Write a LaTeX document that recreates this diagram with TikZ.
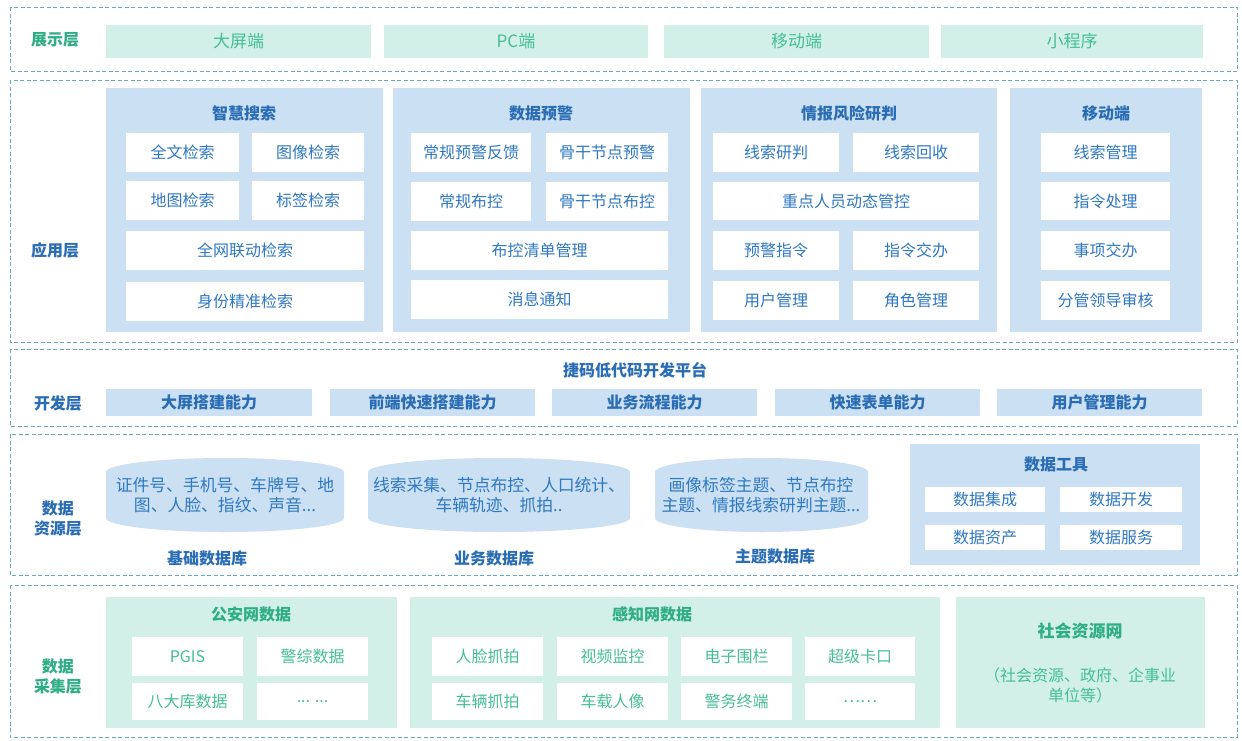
\documentclass[tikz,border=0pt]{standalone}
\usepackage{fontspec}
\setmainfont{Noto Sans CJK SC}
\definecolor{gfill}{HTML}{D2F0E7}
\definecolor{gtext}{HTML}{45BE98}
\definecolor{gtitle}{HTML}{2FAE86}
\definecolor{bfill}{HTML}{CBE0F2}
\definecolor{btext}{HTML}{2F78C2}
\definecolor{btitle}{HTML}{2A6DB5}
\definecolor{dashc}{HTML}{6AA9BE}
\newcommand\bx[7]{%
  \pgfmathsetmacro\bxcx{(#3+#5)/2}\pgfmathsetmacro\bxcy{(#4+#6)/2}%
  \pgfmathsetmacro\bxw{#5-#3}\pgfmathsetmacro\bxh{#6-#4}%
  \node[#2,minimum width=\bxw pt,minimum height=\bxh pt,inner sep=0pt] (#1) at (\bxcx,\bxcy) {#7};}
\tikzset{
  layerbox/.style={draw=dashc,line width=0.8pt,dash pattern=on 4pt off 2.5pt},
  fs/.style={font=\fontsize{16}{19}\selectfont},
  gtop/.style={fill=gfill,text=gtext,font=\fontsize{17}{20}\selectfont},
  bpanel/.style={fill=bfill},
  gpanel/.style={fill=gfill},
  bwhite/.style={fill=white,text=btext,fs},
  gwhite/.style={fill=white,text=gtext,fs},
  btitlet/.style={text=btitle,font=\fontsize{16}{19}\selectfont\bfseries},
  gtitlet/.style={text=gtitle,font=\fontsize{16}{19}\selectfont\bfseries},
  blabel/.style={text=btitle,font=\fontsize{16}{20}\selectfont\bfseries,align=center},
  glabel/.style={text=gtitle,font=\fontsize{16}{20}\selectfont\bfseries,align=center},
  devbar/.style={fill=bfill,text=btitle,font=\fontsize{16}{19}\selectfont\bfseries},
  dbtext/.style={text=btext,font=\fontsize{16.8}{20}\selectfont,align=center},
}
\begin{document}
\begin{tikzpicture}[x=1pt,y=-1pt]
\useasboundingbox (0,0) rectangle (1242,740);
\fill[white] (0,0) rectangle (1242,740);
% layers
\draw[layerbox] (10,7) rectangle (1237,71);
\draw[layerbox] (10,80) rectangle (1237,342);
\draw[layerbox] (10,349) rectangle (1237,426);
\draw[layerbox] (10,434) rectangle (1237,575);
\draw[layerbox] (10,585) rectangle (1237,737);
% layer labels
\node[glabel] (l1) at (55,40) {展示层};
\node[blabel] (l2) at (55,250) {应用层};
\node[blabel] (l3) at (58,403) {开发层};
\node[blabel] (l4) at (58,518) {数据\\资源层};
\node[glabel] (l5) at (58,676) {数据\\采集层};
% presentation layer
\bx{p1}{gtop}{106}{25}{371}{58}{大屏端}
\bx{p2}{gtop}{384}{25}{648}{58}{PC端}
\bx{p3}{gtop}{664}{25}{929}{58}{移动端}
\bx{p4}{gtop}{941}{25}{1203}{58}{小程序}
% application layer panels
\bx{a1}{bpanel}{106}{88}{383}{332}{}
\bx{a2}{bpanel}{393}{88}{690}{332}{}
\bx{a3}{bpanel}{701}{88}{997}{332}{}
\bx{a4}{bpanel}{1010}{88}{1202}{332}{}
\node[btitlet] (a1t) at (244,113) {智慧搜索};
\node[btitlet] (a2t) at (541,113) {数据预警};
\node[btitlet] (a3t) at (849,113) {情报风险研判};
\node[btitlet] (a4t) at (1106,113) {移动端};
% 智慧搜索
\bx{s1}{bwhite}{126}{133}{239}{172}{全文检索}
\bx{s2}{bwhite}{252}{133}{364}{172}{图像检索}
\bx{s3}{bwhite}{126}{181}{239}{220}{地图检索}
\bx{s4}{bwhite}{252}{181}{364}{220}{标签检索}
\bx{s5}{bwhite}{126}{231}{364}{270}{全网联动检索}
\bx{s6}{bwhite}{126}{282}{364}{321}{身份精准检索}
% 数据预警
\bx{w1}{bwhite}{411}{133}{531}{172}{常规预警反馈}
\bx{w2}{bwhite}{546}{133}{668}{172}{骨干节点预警}
\bx{w3}{bwhite}{411}{182}{531}{221}{常规布控}
\bx{w4}{bwhite}{546}{182}{668}{221}{骨干节点布控}
\bx{w5}{bwhite}{411}{231}{668}{270}{布控清单管理}
\bx{w6}{bwhite}{411}{280}{668}{319}{消息通知}
% 情报风险研判
\bx{r1}{bwhite}{713}{133}{839}{172}{线索研判}
\bx{r2}{bwhite}{853}{133}{979}{172}{线索回收}
\bx{r3}{bwhite}{713}{182}{979}{220}{重点人员动态管控}
\bx{r4}{bwhite}{713}{231}{839}{270}{预警指令}
\bx{r5}{bwhite}{853}{231}{979}{270}{指令交办}
\bx{r6}{bwhite}{713}{281}{839}{320}{用户管理}
\bx{r7}{bwhite}{853}{281}{979}{320}{角色管理}
% 移动端
\bx{m1}{bwhite}{1041}{133}{1170}{172}{线索管理}
\bx{m2}{bwhite}{1041}{182}{1170}{220}{指令处理}
\bx{m3}{bwhite}{1041}{231}{1170}{270}{事项交办}
\bx{m4}{bwhite}{1041}{281}{1170}{320}{分管领导审核}
% dev layer
\node[btitlet] (dt) at (635,370) {捷码低代码开发平台};
\bx{d1}{devbar}{106}{389}{312}{416}{大屏搭建能力}
\bx{d2}{devbar}{330}{389}{535}{416}{前端快速搭建能力}
\bx{d3}{devbar}{552}{389}{757}{416}{业务流程能力}
\bx{d4}{devbar}{775}{389}{980}{416}{快速表单能力}
\bx{d5}{devbar}{997}{389}{1202}{416}{用户管理能力}
% data resource layer
\foreach \xa/\xb in {106/344, 368/630, 655/868}{
  \pgfmathsetmacro\rx{(\xb-\xa)/2}
  \fill[bfill] (\xa,472) arc[start angle=180,end angle=360,x radius=\rx,y radius=14]
    -- (\xb,518) arc[start angle=0,end angle=180,x radius=\rx,y radius=14] -- cycle;
}
\node[dbtext] (db1) at (225,495) {证件号、手机号、车牌号、地\\图、人脸、指纹、声音...};
\node[dbtext] (db2) at (499,495) {线索采集、节点布控、人口统计、\\车辆轨迹、抓拍..};
\node[dbtext] (db3) at (761,495) {画像标签主题、节点布控\\主题、情报线索研判主题...};
\node[btitlet] (db1t) at (207,558) {基础数据库};
\node[btitlet] (db2t) at (494,558) {业务数据库};
\node[btitlet] (db3t) at (775,556) {主题数据库};
\bx{tp}{bpanel}{910}{444}{1200}{565}{}
\node[btitlet] (tpt) at (1056,464) {数据工具};
\bx{t1}{bwhite}{925}{487}{1045}{512}{数据集成}
\bx{t2}{bwhite}{1060}{487}{1182}{512}{数据开发}
\bx{t3}{bwhite}{925}{525}{1045}{550}{数据资产}
\bx{t4}{bwhite}{1060}{525}{1182}{550}{数据服务}
% acquisition layer
\bx{g1}{gpanel}{106}{597}{397}{728}{}
\bx{g2}{gpanel}{410}{597}{940}{728}{}
\bx{g3}{gpanel}{956}{597}{1205}{728}{}
\node[gtitlet] (g1t) at (251,614) {公安网数据};
\node[gtitlet] (g2t) at (652,614) {感知网数据};
\node[gtitlet,font=\fontsize{17}{20}\selectfont\bfseries] (g3t) at (1080,631) {社会资源网};
\node[text=gtext,font=\fontsize{16}{20}\selectfont,align=center] (g3s) at (1080,685) {（社会资源、政府、企事业\\单位等）};
\bx{c1}{gwhite}{132}{637}{243}{676}{PGIS}
\bx{c2}{gwhite}{257}{637}{368}{676}{警综数据}
\bx{c3}{gwhite}{132}{683}{243}{720}{八大库数据}
\bx{c4}{gwhite}{257}{683}{368}{720}{... ...}
\bx{e1}{gwhite}{432}{637}{543}{676}{人脸抓拍}
\bx{e2}{gwhite}{557}{637}{668}{676}{视频监控}
\bx{e3}{gwhite}{681}{637}{792}{676}{电子围栏}
\bx{e4}{gwhite}{805}{637}{915}{676}{超级卡口}
\bx{e5}{gwhite}{432}{683}{543}{720}{车辆抓拍}
\bx{e6}{gwhite}{557}{683}{668}{720}{车载人像}
\bx{e7}{gwhite}{681}{683}{792}{720}{警务终端}
\bx{e8}{gwhite}{805}{683}{915}{720}{……}
\end{tikzpicture}
\end{document}
